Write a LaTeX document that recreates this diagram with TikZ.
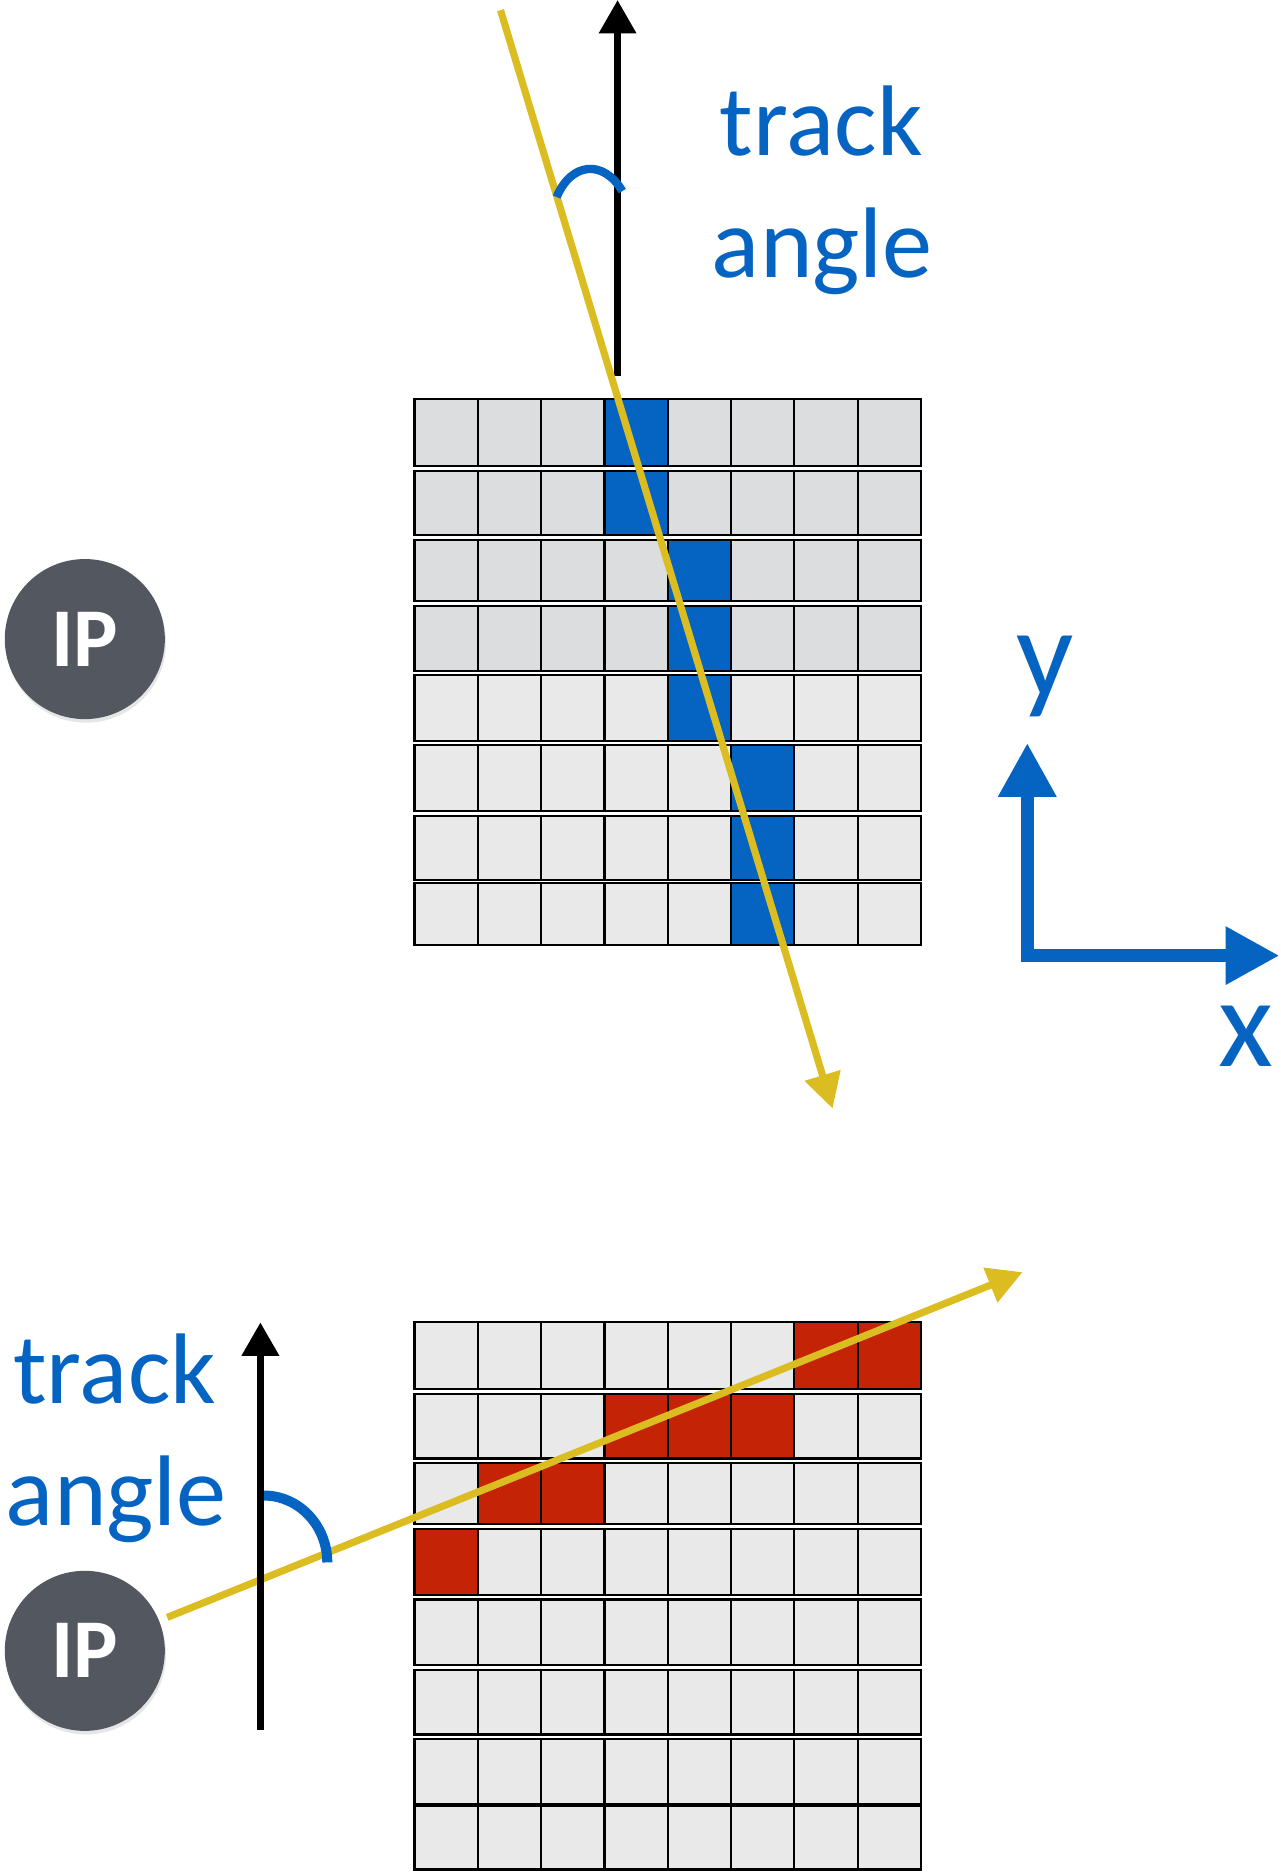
\documentclass[tikz,border=0pt]{standalone}
\usepackage{fontspec}
\setmainfont{Carlito}
\usetikzlibrary{arrows.meta,shadows}
\definecolor{mblue}{HTML}{0563C1}
\definecolor{myel}{HTML}{DBBD22}
\definecolor{mred}{HTML}{C42306}
\definecolor{gdark}{HTML}{DCDDDF}
\definecolor{glight}{HTML}{E9E9E9}
\definecolor{ipgray}{HTML}{535860}
\begin{document}
\begin{tikzpicture}[x=1pt,y=-1pt,
  cell/.style={draw=black, line width=1.8pt},
  blackarrow/.style={draw=black, line width=6.2pt, -{Triangle[length=28pt,width=30pt]}},
  trackline/.style={draw=myel, line width=6pt, -{Triangle[length=29pt,width=30pt]}},
  anglearc/.style={draw=mblue, line width=7pt, line cap=butt},
  axisline/.style={draw=mblue, line width=10.6pt, line join=miter,
     {Triangle[length=45pt,width=46pt]}-{Triangle[length=45pt,width=46pt]}},
  ipnode/.style={circle, fill=ipgray, minimum size=134pt, inner sep=0pt, text=white,
     font=\bfseries\fontsize{70}{84}\selectfont,
     drop shadow={shadow xshift=1pt, shadow yshift=-3pt, opacity=0.2}},
  lbl/.style={text=mblue, font=\fontsize{84}{100}\selectfont, anchor=base, inner sep=0pt},
  axlbl/.style={text=mblue, font=\fontsize{106}{120}\selectfont, anchor=base, inner sep=0pt}]
\useasboundingbox (0,0) rectangle (1072,1568);

% ---------- top grid ----------
\foreach \t/\b/\c in {334/390/gdark,394/448/gdark,452/503/gdark,507/562/gdark,
                      565/620/glight,624/679/glight,683/737/glight,739/791/glight}{
  \foreach \k in {0,...,7}{
    \draw[cell, fill=\c] ({347+53*\k},\t) rectangle ({400+53*\k},\b);
  }
}
\foreach \k/\t/\b in {3/334/390,3/394/448,4/452/503,4/507/562,4/565/620,5/624/679,5/683/737,5/739/791}{
  \draw[cell, fill=mblue] ({347+53*\k},\t) rectangle ({400+53*\k},\b);
}

% ---------- bottom grid ----------
\foreach \t/\b in {1107/1163,1167/1221,1225/1276,1280/1335,1339/1394,1398/1452,1456/1510,1512/1565}{
  \foreach \k in {0,...,7}{
    \draw[cell, fill=glight] ({347+53*\k},\t) rectangle ({400+53*\k},\b);
  }
}
\foreach \k/\t/\b in {6/1107/1163,7/1107/1163,3/1167/1221,4/1167/1221,5/1167/1221,1/1225/1276,2/1225/1276,0/1280/1335}{
  \draw[cell, fill=mred] ({347+53*\k},\t) rectangle ({400+53*\k},\b);
}

% ---------- IP nodes ----------
\node[ipnode] (ip1) at (71,535) {IP};
\node[ipnode] (ip2) at (71,1382) {IP};

% ---------- top track ----------
\coordinate (ta0) at (517,315);
\coordinate (ta1) at (517,0);
\draw[blackarrow] (ta0) -- (ta1);
\coordinate (ty0) at (419,8.5);
\coordinate (ty1) at (697,928);
\draw[trackline] (ty0) -- (ty1);
\coordinate (tarc0) at (466,165);
\coordinate (tarc1) at (521,160);
\draw[anglearc] (tarc0) .. controls (478,136) and (505,133) .. (tarc1);
\node[lbl] (trk1) at (687.5,130) {track};
\node[lbl] (ang1) at (688.5,232) {angle};

% ---------- bottom track ----------
\coordinate (by0) at (140,1354);
\coordinate (by1) at (856,1065);
\draw[trackline] (by0) -- (by1);
\coordinate (ba0) at (218,1448);
\coordinate (ba1) at (218,1107);
\draw[blackarrow] (ba0) -- (ba1);
\coordinate (barc0) at (221,1252);
\coordinate (barc1) at (274,1308);
\draw[anglearc, line width=8.4pt] (barc0) .. controls (250,1252) and (274,1277) .. (barc1);
\node[lbl] (trk2) at (96,1175) {track};
\node[lbl] (ang2) at (97.5,1277) {angle};

% ---------- axes ----------
\coordinate (ay) at (860,622);
\coordinate (ao) at (860,800);
\coordinate (ax) at (1071,800);
\draw[axisline] (ay) -- (ao) -- (ax);
\node[axlbl] (ylab) at (875,583) {y};
\node[axlbl] (xlab) at (1043,893) {x};
\end{tikzpicture}
\end{document}
